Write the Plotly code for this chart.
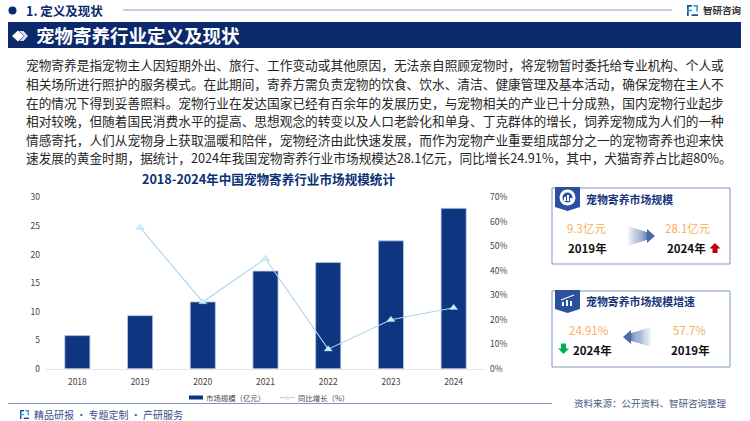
import plotly.graph_objects as go

years = ["2018", "2019", "2020", "2021", "2022", "2023", "2024"]
market_size = [5.8, 9.3, 11.7, 17.1, 18.6, 22.4, 28.1]
growth = [None, 57.7, 27.3, 45.0, 8.0, 20.0, 24.91]

body_lines = [
    "宠物寄养是指宠物主人因短期外出、旅行、工作变动或其他原因，无法亲自照顾宠物时，将宠物暂时委托给专业机构、个人或",
    "相关场所进行照护的服务模式。在此期间，寄养方需负责宠物的饮食、饮水、清洁、健康管理及基本活动，确保宠物在主人不",
    "在的情况下得到妥善照料。宠物行业在发达国家已经有百余年的发展历史，与宠物相关的产业已十分成熟，国内宠物行业起步",
    "相对较晚，但随着国民消费水平的提高、思想观念的转变以及人口老龄化和单身、丁克群体的增长，饲养宠物成为人们的一种",
    "情感寄托，人们从宠物身上获取温暖和陪伴，宠物经济由此快速发展，而作为宠物产业重要组成部分之一的宠物寄养也迎来快",
    "速发展的黄金时期，据统计，2024年我国宠物寄养行业市场规模达28.1亿元，同比增长24.91%，其中，犬猫寄养占比超80%。",
]

W = 750
H = 421
FONT = "Noto Sans CJK SC"
NAVY = "#0c2a6b"
BAR = "#0d3580"
ORANGE = "#f7b05b"
LINE = "#a9d5f0"


def px(x):
    return x / W


def py(y):
    return 1 - y / H


def path(points):
    parts = [f"{'M' if i == 0 else 'L'} {px(x):.5f} {py(y):.5f}" for i, (x, y) in enumerate(points)]
    return " ".join(parts) + " Z"


shapes = []
annotations = []


def add_text(x, y, text, size, color="#222222", bold=False, anchor="left"):
    if bold:
        text = f"<b>{text}</b>"
    annotations.append(dict(
        x=px(x), y=py(y), xref="paper", yref="paper", text=text, showarrow=False,
        xanchor=anchor, yanchor="middle", borderpad=0,
        font=dict(family=FONT, size=size, color=color),
    ))


def add_rect(x0, y0, x1, y1, fill="rgba(0,0,0,0)", line=None, width=1):
    shapes.append(dict(
        type="rect", xref="paper", yref="paper", x0=px(x0), x1=px(x1), y0=py(y0), y1=py(y1),
        fillcolor=fill, line=dict(color=line, width=width if line else 0),
    ))


def add_poly(points, fill):
    shapes.append(dict(type="path", xref="paper", yref="paper", path=path(points),
                       fillcolor=fill, line=dict(width=0)))


def add_line(x0, y0, x1, y1, color, width=1):
    shapes.append(dict(type="line", xref="paper", yref="paper", x0=px(x0), x1=px(x1), y0=py(y0), y1=py(y1),
                       line=dict(color=color, width=width)))


def add_circle(cx, cy, r, fill):
    shapes.append(dict(type="circle", xref="paper", yref="paper", x0=px(cx - r), x1=px(cx + r),
                       y0=py(cy - r), y1=py(cy + r), fillcolor=fill, line=dict(width=0)))


def add_logo(x, y, s):
    # little two-part mark next to the company name
    add_rect(x, y, x + 0.45 * s, y + 0.16 * s, "#1f4fa0")
    add_rect(x, y, x + 0.16 * s, y + s, "#1f4fa0")
    add_rect(x, y + 0.42 * s, x + 0.45 * s, y + 0.58 * s, "#35a7e0")
    add_rect(x + 0.58 * s, y, x + s, y + 0.16 * s, "#35a7e0")
    add_rect(x + 0.84 * s, y, x + s, y + 0.58 * s, "#35a7e0")
    add_rect(x + 0.42 * s, y + 0.84 * s, x + s, y + s, "#1f4fa0")


def add_fade_arrow(x0, x1, y, reverse=False):
    # shaft fades towards the tail, head is solid
    steps = 18
    head = 8
    span = (x1 - x0) - head
    for i in range(steps):
        a = (i + 1) / steps
        t0 = i / steps * span
        t1 = (i + 1) / steps * span
        half = 4 + 6 * (1 - a)
        color = f"rgba(74,106,170,{0.03 + 0.8 * a:.3f})"
        if reverse:
            add_rect(x1 - t1, y - half, x1 - t0, y + half, color)
        else:
            add_rect(x0 + t0, y - half, x0 + t1, y + half, color)
    if reverse:
        add_poly([(x0, y), (x0 + head, y - 7), (x0 + head, y + 7)], "#4a6aaa")
    else:
        add_poly([(x1, y), (x1 - head, y - 7), (x1 - head, y + 7)], "#4a6aaa")


def add_badge(x0, x1, y0, y1):
    mid = (x0 + x1) / 2
    add_poly([(x0, y0), (x1, y0), (x1, y1 - 4), (mid, y1), (x0, y1 - 4)], "#2a50a0")


# top heading
add_circle(12.5, 10.5, 4, NAVY)
add_text(25, 11, "1. 定义及现状", 12.5, NAVY, bold=True)
add_line(123, 10, 672, 10, "#8c9fc7", 1)
add_logo(687, 5, 11)
add_text(702, 10, "智研咨询", 9.5, "#333333", bold=True)

# section band
add_rect(8, 22, 741, 48, NAVY)
add_poly([(12, 36), (18, 30.5), (24, 36), (18, 41.5)], "#ffffff")
add_poly([(19, 31), (23.5, 31), (28, 36), (23.5, 41), (19.5, 41), (24.5, 36)], "#d9dfeb")
add_text(35, 35.5, "宠物寄养行业定义及现状", 18.5, "#ffffff", bold=True)

# paragraph
for i, line in enumerate(body_lines):
    add_text(25, 65 + i * 18.6, line, 12.7, "#262626")

add_text(268, 178, "2018-2024年中国宠物寄养行业市场规模统计", 12.6, "#0e3077", bold=True, anchor="center")

# legend, drawn by hand because the bar key is a thin strip
add_rect(189, 395.5, 203, 399.5, BAR)
add_text(205, 397.5, "市场规模（亿元）", 7.4, "#444444")
add_line(280, 397.5, 295, 397.5, LINE, 1.1)
add_poly([(287.5, 394.5), (290.5, 399.5), (284.5, 399.5)], "#d4ebf9")
add_text(297, 397.5, "同比增长（%）", 7.4, "#444444")

# first side card
add_rect(552, 188, 730, 264, "#ffffff", "#7f95c4", 1)
add_badge(555, 580, 187, 211)
add_circle(567.5, 197.5, 8, "#ffffff")
add_circle(567.5, 197.5, 5, "#2a50a0")
add_rect(564, 197, 566, 201, "#ffffff")
add_rect(567, 195, 569, 201, "#ffffff")
add_rect(570, 198, 572, 201, "#ffffff")
add_text(585, 199, "宠物寄养市场规模", 10.9, "#16357c", bold=True)
add_text(586, 228, "9.3亿元", 11.5, ORANGE, anchor="center")
add_text(587, 248, "2019年", 11.5, "#111111", bold=True, anchor="center")
add_fade_arrow(628, 655, 236)
add_text(688, 228, "28.1亿元", 11.5, ORANGE, anchor="center")
add_text(686, 248, "2024年", 11.5, "#111111", bold=True, anchor="center")
add_poly([(715, 243), (720.5, 248.5), (717.5, 248.5), (717.5, 253), (712.5, 253), (712.5, 248.5), (709.5, 248.5)], "#c00000")

# second side card
add_rect(552, 291, 730, 367, "#ffffff", "#7f95c4", 1)
add_badge(555, 580, 290, 313)
add_rect(562, 302, 564, 306, "#ffffff")
add_rect(566, 300, 568, 306, "#ffffff")
add_rect(570, 301, 572, 306, "#ffffff")
add_line(561, 300, 574, 295, "#ffffff", 1.2)
add_text(585, 301, "宠物寄养市场规模增速", 10.9, "#16357c", bold=True)
add_text(589, 330, "24.91%", 11.5, ORANGE, anchor="center")
add_text(689, 330, "57.7%", 11.5, ORANGE, anchor="center")
add_text(592, 350, "2024年", 11.5, "#111111", bold=True, anchor="center")
add_text(690, 350, "2019年", 11.5, "#111111", bold=True, anchor="center")
add_fade_arrow(623, 651, 337, reverse=True)
add_poly([(563.5, 354), (558, 348.5), (561, 348.5), (561, 343.5), (566, 343.5), (566, 348.5), (569, 348.5)], "#00b050")

# footer
add_line(8, 403.5, 552, 403.5, "#7f95c4", 1)
add_text(573, 403, "资料来源：公开资料、智研咨询整理", 9.5, "#4a5a80")
add_logo(20, 410, 9)
add_text(33, 414, "精品研报 · 专题定制 · 产研服务", 10, "#36508a")

fig = go.Figure()
fig.add_trace(go.Bar(
    x=years, y=market_size, name="市场规模（亿元）", width=0.4,
    marker=dict(color=BAR, line=dict(color="#b4c7e7", width=0.8)),
))
fig.add_trace(go.Scatter(
    x=years, y=growth, name="同比增长（%）", yaxis="y2", mode="lines+markers",
    line=dict(color=LINE, width=1.1),
    marker=dict(symbol="triangle-up", size=7, color="#d4ebf9", line=dict(color=LINE, width=0.5)),
))

fig.update_layout(
    autosize=False, width=W, height=H,
    margin=dict(l=0, r=0, t=0, b=0, autoexpand=False),
    paper_bgcolor="#ffffff", plot_bgcolor="#ffffff",
    font=dict(family=FONT, size=8.5, color="#444444"),
    shapes=shapes, annotations=annotations,
    showlegend=False,
    xaxis=dict(
        domain=[px(46), px(485)], showgrid=False, showline=True, linecolor="#e6e6e6", linewidth=1,
        ticks="", tickfont=dict(size=8.5), ticklabelstandoff=5,
    ),
    yaxis=dict(
        domain=[py(368.7), py(197.5)], range=[0, 30], dtick=5, showgrid=False, zeroline=False,
        showline=False, ticks="", tickfont=dict(size=8.5), ticklabelstandoff=5,
    ),
    yaxis2=dict(
        overlaying="y", side="right", range=[0, 70], dtick=10, ticksuffix="%", showgrid=False,
        zeroline=False, showline=False, ticks="", tickfont=dict(size=8.5), anchor="x",
        ticklabelstandoff=4,
    ),
)

fig.write_html("out.html", config={"displayModeBar": False},
               post_script="document.body.style.margin='0';")
